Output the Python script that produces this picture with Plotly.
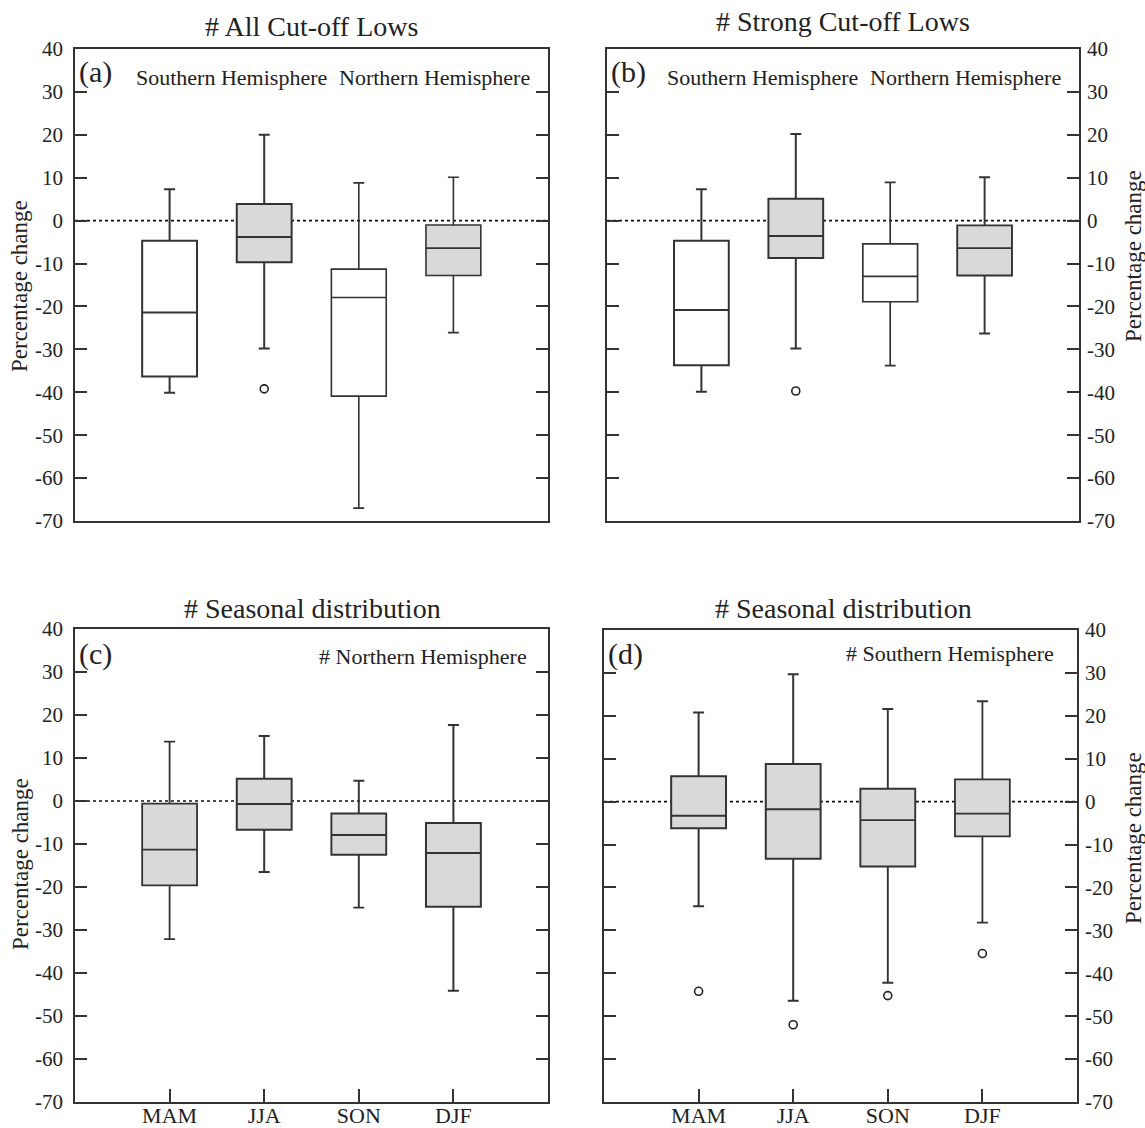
import plotly.graph_objects as go

# ---- data -------------------------------------------------------------
seasons = ["MAM", "JJA", "SON", "DJF"]

# (a) all cut-off lows: SH (boxes 1-2) and NH (boxes 3-4)
all_hi = [7.3, 20.0, 8.8, 10.1]
all_q3 = [-4.7, 3.9, -11.3, -1.0]
all_med = [-21.4, -3.8, -17.9, -6.4]
all_q1 = [-36.3, -9.7, -40.9, -12.8]
all_lo = [-40.1, -29.8, -67.0, -26.1]
all_out_box = [2]
all_out_val = [-39.2]

# (b) strong cut-off lows
strong_hi = [7.3, 20.2, 8.9, 10.1]
strong_q3 = [-4.7, 5.1, -5.4, -1.1]
strong_med = [-20.8, -3.6, -13.0, -6.4]
strong_q1 = [-33.7, -8.7, -18.9, -12.8]
strong_lo = [-39.9, -29.8, -33.8, -26.3]
strong_out_box = [2]
strong_out_val = [-39.7]

# (c) seasonal distribution, Northern Hemisphere
nh_hi = [13.8, 15.1, 4.7, 17.7]
nh_q3 = [-0.6, 5.2, -2.9, -5.1]
nh_med = [-11.3, -0.7, -7.9, -12.1]
nh_q1 = [-19.6, -6.7, -12.5, -24.6]
nh_lo = [-32.1, -16.5, -24.8, -44.1]
nh_out_box = []
nh_out_val = []

# (d) seasonal distribution, Southern Hemisphere
sh_hi = [20.8, 29.7, 21.6, 23.4]
sh_q3 = [5.9, 8.8, 3.0, 5.2]
sh_med = [-3.3, -1.8, -4.3, -2.8]
sh_q1 = [-6.2, -13.3, -15.1, -8.1]
sh_lo = [-24.4, -46.4, -42.2, -28.2]
sh_out_box = [1, 2, 3, 4]
sh_out_val = [-44.2, -52.0, -45.2, -35.4]

yticks = list(range(-70, 41, 10))
ytick_text = [str(v) for v in yticks]  # plain hyphen for negatives

# ---- styling ----------------------------------------------------------
FONT = "Liberation Serif"
INK = "#222222"
EDGE = "#333333"
GREY = "#d9d9d9"
WHITE = "#ffffff"

panels = [
    dict(ax="", d=(all_lo, all_q1, all_med, all_q3, all_hi),
         out=(all_out_box, all_out_val),
         fill=[WHITE, GREY, WHITE, GREY], lw=[2.0, 2.0, 1.6, 1.6],
         xd=[75 / 1145, 548 / 1145], yd=[1 - 521 / 1128, 1 - 49 / 1128],
         side="left", xt=False),
    dict(ax="2", d=(strong_lo, strong_q1, strong_med, strong_q3, strong_hi),
         out=(strong_out_box, strong_out_val),
         fill=[WHITE, GREY, WHITE, GREY], lw=[2.0, 2.0, 1.7, 1.9],
         xd=[607 / 1145, 1079 / 1145], yd=[1 - 521 / 1128, 1 - 49 / 1128],
         side="right", xt=False),
    dict(ax="3", d=(nh_lo, nh_q1, nh_med, nh_q3, nh_hi),
         out=(nh_out_box, nh_out_val),
         fill=[GREY] * 4, lw=[1.8, 2.0, 1.9, 2.0],
         xd=[75 / 1145, 548 / 1145], yd=[1 - 1102 / 1128, 1 - 629 / 1128],
         side="left", xt=True),
    dict(ax="4", d=(sh_lo, sh_q1, sh_med, sh_q3, sh_hi),
         out=(sh_out_box, sh_out_val),
         fill=[GREY] * 4, lw=[2.0, 2.0, 1.9, 1.8],
         xd=[604 / 1145, 1077 / 1145], yd=[1 - 1102 / 1128, 1 - 630 / 1128],
         side="right", xt=True),
]

fig = go.Figure()
layout = {}
shapes = []

for p in panels:
    xa, ya = "x" + p["ax"], "y" + p["ax"]
    lo, q1, med, q3, hi = p["d"]
    for i in range(len(med)):
        fig.add_trace(go.Box(
            x=[i + 1], lowerfence=[lo[i]], q1=[q1[i]], median=[med[i]],
            q3=[q3[i]], upperfence=[hi[i]],
            width=0.58, whiskerwidth=0.2,
            fillcolor=p["fill"][i],
            line=dict(color=EDGE, width=p["lw"][i]),
            boxpoints=False, showlegend=False,
            xaxis=xa, yaxis=ya,
        ))
    ob, ov = p["out"]
    if ob:
        fig.add_trace(go.Scatter(
            x=ob, y=ov, mode="markers",
            marker=dict(symbol="circle-open", size=8, color=INK,
                        line=dict(width=1.6)),
            showlegend=False, xaxis=xa, yaxis=ya,
        ))

    xkey = "xaxis" + p["ax"]
    ykey = "yaxis" + p["ax"]
    layout[xkey] = dict(
        domain=p["xd"], anchor=ya, range=[0, 5], automargin=False,
        showline=True, mirror=True, linecolor=EDGE, linewidth=1.8,
        showgrid=False, zeroline=False,
        ticks="inside" if p["xt"] else "", ticklen=13, tickwidth=1.8,
        tickcolor=EDGE,
        tickvals=[1, 2, 3, 4] if p["xt"] else [],
        ticktext=seasons if p["xt"] else [],
        showticklabels=p["xt"],
        ticklabelstandoff=-7,
        tickfont=dict(family=FONT, size=22, color=INK),
    )
    layout[ykey] = dict(
        domain=p["yd"], anchor=xa, range=[-70, 40], side=p["side"],
        automargin=False,
        showline=True, mirror="ticks", linecolor=EDGE, linewidth=1.8,
        showgrid=False, zeroline=False,
        ticks="inside", ticklen=12, tickwidth=1.8, tickcolor=EDGE,
        tickvals=yticks, ticktext=ytick_text,
        ticklabelstandoff=6 if p["side"] == "left" else 2,
        tickfont=dict(family=FONT, size=21, color=INK),
    )
    # dotted zero reference line
    shapes.append(dict(
        type="line", xref=xa + " domain", yref=ya,
        x0=0, x1=1, y0=0, y1=0,
        line=dict(color="#111111", width=1.6, dash="dot"),
        layer="below",
    ))


def px(x):
    return x / 1145


def py(y):
    return 1 - y / 1128


def note(text, x, y, size, xanchor="center", angle=0):
    return dict(text=text, x=px(x), y=py(y), xref="paper", yref="paper",
                showarrow=False, xanchor=xanchor, yanchor="middle",
                textangle=angle,
                font=dict(family=FONT, size=size, color=INK))


annotations = [
    note("# All Cut-off Lows", 311, 26, 28),
    note("# Strong Cut-off Lows", 843, 22, 28),
    note("# Seasonal distribution", 312, 608, 28),
    note("# Seasonal distribution", 843, 608, 28),
    note("(a)", 77, 72, 30, "left"),
    note("(b)", 609, 72, 30, "left"),
    note("(c)", 77, 654, 30, "left"),
    note("(d)", 606, 654, 30, "left"),
    note("Southern Hemisphere", 231, 77, 22),
    note("Northern Hemisphere", 434, 77, 22),
    note("Southern Hemisphere", 762, 77, 22),
    note("Northern Hemisphere", 965, 77, 22),
    note("# Northern Hemisphere", 529, 656, 22, "right"),
    note("# Southern Hemisphere", 1056, 653, 22, "right"),
    note("Percentage change", 20, 286, 23, angle=-90),
    note("Percentage change", 1133, 256, 23, angle=-90),
    note("Percentage change", 20, 864, 23, angle=-90),
    note("Percentage change", 1133, 838, 23, angle=-90),
]

fig.update_layout(
    width=1145, height=1128,
    margin=dict(l=0, r=0, t=0, b=0),
    paper_bgcolor="white", plot_bgcolor="white",
    boxmode="overlay",
    shapes=shapes, annotations=annotations,
    **layout,
)

fig.write_html("out.html")
